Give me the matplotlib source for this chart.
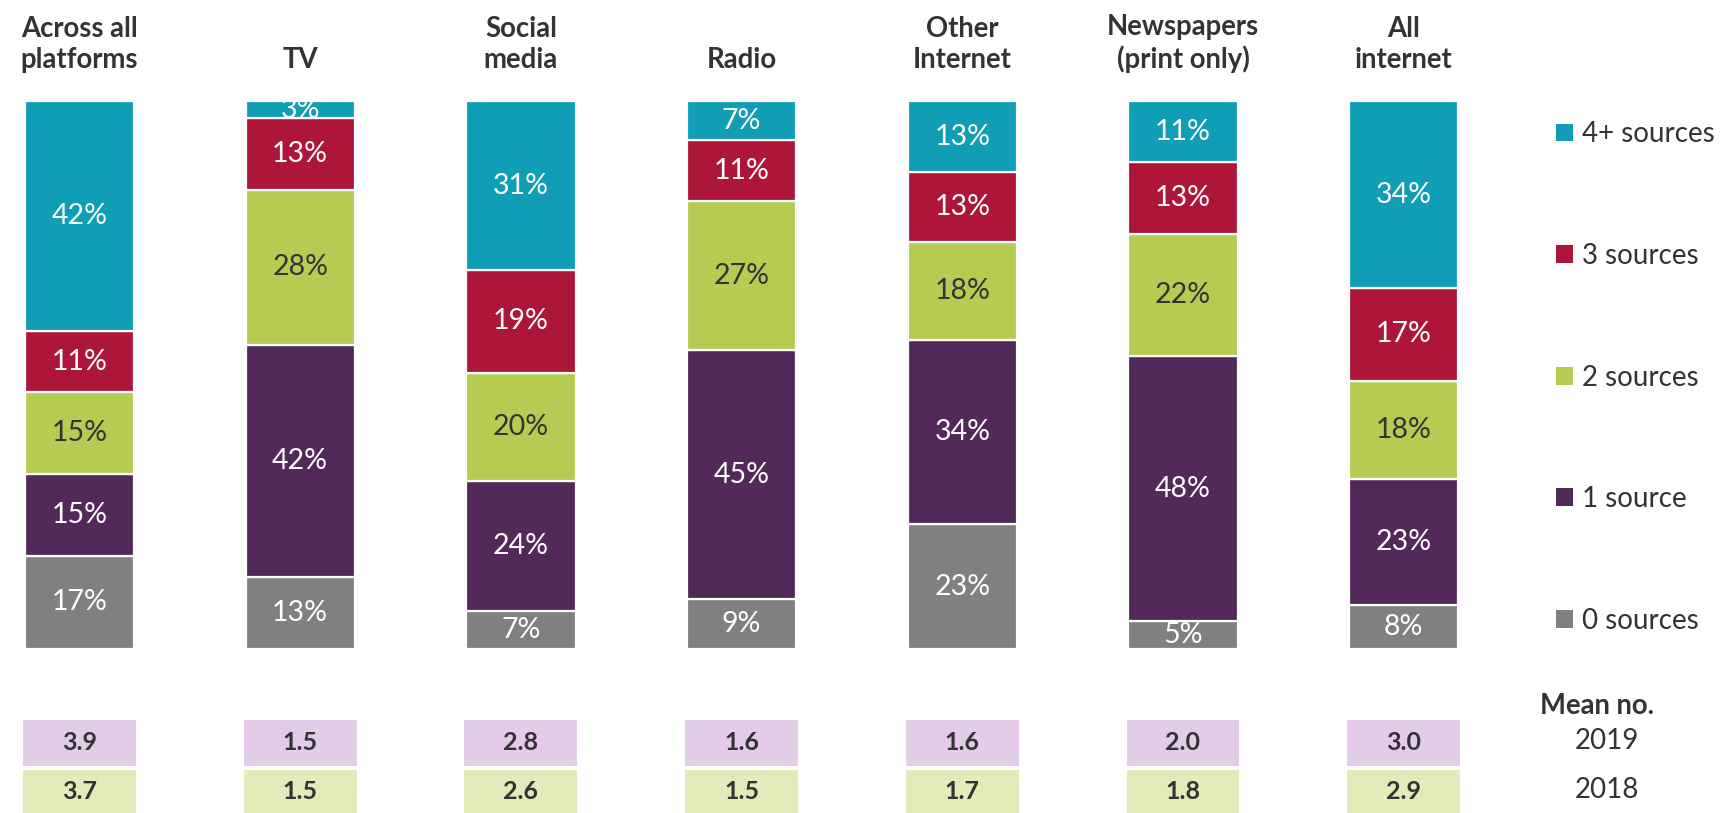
import numpy as np
import matplotlib
matplotlib.use("Agg")
import matplotlib.pyplot as plt
from matplotlib.patches import Patch

plt.rcParams['font.family'] = ['Lato', 'DejaVu Sans']

platforms = ["Across all\nplatforms", "TV", "Social\nmedia", "Radio",
             "Other\nInternet", "Newspapers\n(print only)", "All\ninternet"]
zero_src = [17, 13, 7, 9, 23, 5, 8]
one_src = [15, 42, 24, 45, 34, 48, 23]
two_src = [15, 28, 20, 27, 18, 22, 18]
three_src = [11, 13, 19, 11, 13, 13, 17]
four_src = [42, 3, 31, 7, 13, 11, 34]
mean_2019 = [3.9, 1.5, 2.8, 1.6, 1.6, 2.0, 3.0]
mean_2018 = [3.7, 1.5, 2.6, 1.5, 1.7, 1.8, 2.9]

series = [zero_src, one_src, two_src, three_src, four_src]
names = ["0 sources", "1 source", "2 sources", "3 sources", "4+ sources"]
colors = ["#808080", "#522A59", "#B6CB51", "#AD1639", "#0F9EB5"]
txt_colors = ["white", "white", "#333333", "white", "white"]
dark = "#333333"

W, H = 1731, 813
fig = plt.figure(figsize=(W / 100, H / 100), dpi=100)

step = 220.7
x0 = 79.5
xlim = (-x0 / step, (W - x0) / step)

# main stacked bars
ax = fig.add_axes([0, 1 - 649 / H, 1, (649 - 101.5) / H])
ax.set_xlim(*xlim)
ax.set_ylim(0, 100)
ax.axis("off")

x = np.arange(len(platforms))
vals = np.array(series, dtype=float)
norm = vals / vals.sum(axis=0) * 100
bottom = np.zeros(len(platforms))
for i in range(len(series)):
    ax.bar(x, norm[i], bottom=bottom, width=0.495, color=colors[i],
           edgecolor="white", linewidth=1.6)
    for j in range(len(platforms)):
        ax.text(x[j], bottom[j] + norm[i][j] / 2, f"{series[i][j]}%",
                ha="center", va="center", fontsize=20.5, color=txt_colors[i])
    bottom += norm[i]

for j, name in enumerate(platforms):
    fig.text((x0 + j * step) / W, 1 - 68 / H, name, ha="center", va="baseline",
             fontsize=19.8, fontweight="bold", color=dark, linespacing=1.22)

handles = [Patch(facecolor=colors[i], edgecolor="none", label=names[i])
           for i in range(len(series) - 1, -1, -1)]
fig.legend(handles=handles, loc="center left",
           bbox_to_anchor=(1556 / W, 1 - 377.5 / H), frameon=False,
           fontsize=20, labelcolor=dark, handlelength=0.6, handleheight=0.6,
           handletextpad=0.35, labelspacing=3.44, borderpad=0, borderaxespad=0)

# mean number boxes
ax2 = fig.add_axes([0, 0, 1, 93 / H])
ax2.set_xlim(*xlim)
ax2.set_ylim(0, 2)
ax2.axis("off")
ax2.bar(x, 0.92, bottom=0, width=0.512, color="#E2EBBA")
ax2.bar(x, 0.98, bottom=1.02, width=0.512, color="#E3CCE8")
for j in range(len(platforms)):
    ax2.text(x[j], 0.46, f"{mean_2018[j]:.1f}", ha="center", va="center",
             fontsize=18, fontweight="bold", color=dark)
    ax2.text(x[j], 1.51, f"{mean_2019[j]:.1f}", ha="center", va="center",
             fontsize=18, fontweight="bold", color=dark)
ax2.text(6.92, 0.5, "2018", ha="center", va="center", fontsize=20, color=dark)
ax2.text(6.92, 1.55, "2019", ha="center", va="center", fontsize=20, color=dark)
fig.text(1597 / W, 1 - 706 / H, "Mean no.", ha="center", va="center",
         fontsize=19.8, fontweight="bold", color=dark)

fig.savefig("out.png", dpi=100)
